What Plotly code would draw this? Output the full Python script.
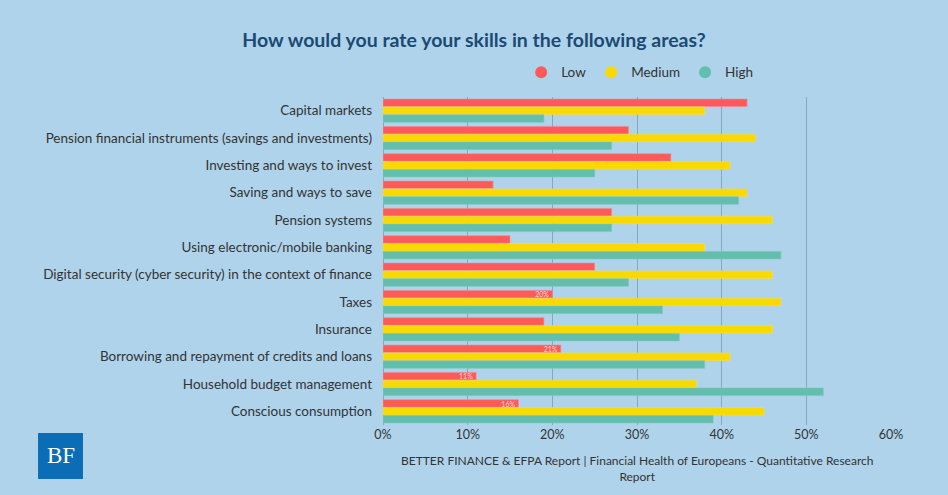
import plotly.graph_objects as go

# data (percent of respondents)
areas = [
    'Capital markets',
    'Pension financial instruments (savings and investments)',
    'Investing and ways to invest',
    'Saving and ways to save',
    'Pension systems',
    'Using electronic/mobile banking',
    'Digital security (cyber security) in the context of finance',
    'Taxes',
    'Insurance',
    'Borrowing and repayment of credits and loans',
    'Household budget management',
    'Conscious consumption',
]
low = [43, 29, 34, 13, 27, 15, 25, 20, 19, 21, 11, 16]
medium = [38, 44, 41, 43, 46, 38, 46, 47, 46, 41, 37, 45]
high = [19, 27, 25, 42, 27, 47, 29, 33, 35, 38, 52, 39]
# only a few red bars carry a value label in the original
low_labels = ['', '', '', '', '', '', '', '20%', '', '21%', '11%', '16%']

series_names = ['Low', 'Medium', 'High']
series_colors = ['#ff5a5a', '#f9da00', '#63bead']
series_edges = ['#f78a8a', '#f5dd4a', '#7fc6b8']

x_ticks = [0, 10, 20, 30, 40, 50, 60]
x_ticktext = ['0%', '10%', '20%', '30%', '40%', '50%', '60%']

bg = '#afd3eb'
font_name = 'Lato'

fig = go.Figure()

for name, vals, col, edge in zip(series_names, [low, medium, high], series_colors, series_edges):
    fig.add_trace(go.Bar(
        y=areas, x=vals, name=name, orientation='h',
        marker=dict(color=col, line=dict(color=edge, width=0.6)),
        text=low_labels if name == 'Low' else None,
        textposition='inside', insidetextanchor='end',
        textfont=dict(size=7, color='#ffd6d6', family=font_name),
        constraintext='none', showlegend=False
    ))

# legend entries with round markers, like the original
for name, col in zip(series_names, series_colors):
    fig.add_trace(go.Scatter(
        x=[None], y=[None], mode='markers', name=name,
        marker=dict(symbol='circle', size=12, color=col)
    ))

fig.update_layout(
    width=948, height=495,
    paper_bgcolor=bg, plot_bgcolor=bg,
    font=dict(family=font_name, size=13.5, color='#333333'),
    title=dict(
        text='<b>How would you rate your skills in the following areas?</b>',
        x=0.5, xanchor='center', y=0.919, yanchor='middle',
        font=dict(size=19.5, color='#1b4a73', family=font_name)
    ),
    barmode='group', bargap=0.14, bargroupgap=0.04,
    margin=dict(l=383, r=57, t=97, b=70),
    showlegend=True,
    legend=dict(
        orientation='h', x=0.272, y=1.075, xanchor='left', yanchor='middle',
        font=dict(size=13.5, color='#333333'),
        bgcolor='rgba(0,0,0,0)'
    ),
    xaxis=dict(
        range=[0, 60], tickvals=x_ticks, ticktext=x_ticktext,
        showgrid=True, gridcolor='#86a7c0', gridwidth=1.2,
        zeroline=True, zerolinecolor='#86a7c0', zerolinewidth=1.2,
        showline=False, ticks='', fixedrange=True,
        tickfont=dict(size=12.5, color='#333333')
    ),
    yaxis=dict(
        autorange='reversed', showgrid=False, showline=False, ticks='',
        ticklabelstandoff=10, tickfont=dict(size=13.5, color='#333333')
    ),
    annotations=[
        dict(
            text='BETTER FINANCE &amp; EFPA Report | Financial Health of Europeans - Quantitative Research<br>Report',
            xref='paper', yref='paper', x=0.5, y=-0.08, xanchor='center', yanchor='top',
            showarrow=False, font=dict(size=12, color='#333333', family=font_name),
            align='center'
        ),
        dict(
            text='BF', xref='paper', yref='paper',
            x=-0.6348, y=-0.0945, xanchor='center', yanchor='middle', showarrow=False,
            font=dict(size=23, color='white', family='Liberation Serif')
        ),
    ],
    shapes=[
        dict(
            type='rect', xref='paper', yref='paper',
            x0=-0.679, x1=-0.5906, y0=-0.1646, y1=-0.0244,
            fillcolor='#0a6db5', line=dict(width=0)
        )
    ]
)

fig.write_html('out.html', config={'displayModeBar': False},
               post_script="document.body.style.margin='0';")
